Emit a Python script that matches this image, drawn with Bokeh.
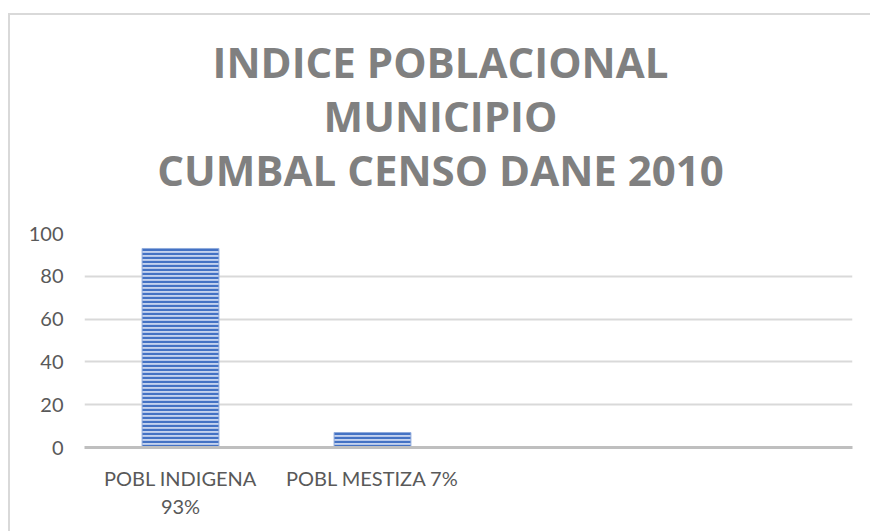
from bokeh.plotting import figure
from bokeh.layouts import column
from bokeh.models import FactorRange, Range1d, FixedTicker, ColumnDataSource
from bokeh.core.properties import value
from bokeh.embed import file_html
from bokeh.resources import INLINE

# data
categories = ["POBL INDIGENA\n93%", "POBL MESTIZA 7%", " ", "  "]
bar_categories = ["POBL INDIGENA\n93%", "POBL MESTIZA 7%"]
values = [93, 7]
y_ticks = [0, 20, 40, 60, 80, 100]
title_lines = ["INDICE POBLACIONAL", "MUNICIPIO", "CUMBAL CENSO DANE 2010"]

FONT = "Lato"
W = 860
HEAD_H = 200
LINE_STEP = 54
FIRST_BASELINE = 46
BL, BR = 74, 18
OFF_X = 10  # page offset of the chart canvas (margin + border)

# ---- header (chart title) ----
# header x range is expressed in page pixels so the title is centred on the whole chart
head = figure(width=W, height=HEAD_H,
              x_range=Range1d(OFF_X + BL, OFF_X + W - BR), y_range=Range1d(0, HEAD_H),
              output_backend="svg", toolbar_location=None,
              x_axis_type=None, y_axis_type=None,
              min_border_left=BL, min_border_right=BR, min_border_top=0, min_border_bottom=0)
head.outline_line_color = None
head.grid.grid_line_color = None
tsrc = ColumnDataSource(dict(
    x=[OFF_X + W / 2] * len(title_lines),
    y=[HEAD_H - (FIRST_BASELINE + i * LINE_STEP) for i in range(len(title_lines))],
    t=title_lines))
head.text(x="x", y="y", text="t", source=tsrc, text_align="center",
          text_baseline="alphabetic", text_font=value("Open Sans"),
          text_font_size="42px", text_font_style="bold", text_color="#808080")

# ---- chart ----
p = figure(width=W, height=531 - 15 - HEAD_H, x_range=FactorRange(factors=categories),
           y_range=Range1d(0, 100), output_backend="svg", toolbar_location=None,
           min_border_left=BL, min_border_right=BR, min_border_bottom=84,
           min_border_top=18)

src = ColumnDataSource(dict(x=bar_categories, top=values))
p.vbar(x="x", top="top", width=0.4, source=src, fill_color="#c5d3ee",
       line_color="#8faadc", line_width=1,
       hatch_pattern="horizontal_line", hatch_color="#4472c4",
       hatch_scale=4, hatch_weight=2.3)

p.outline_line_color = None
p.xgrid.grid_line_color = None
p.ygrid.grid_line_color = "#d9d9d9"
p.ygrid.grid_line_width = 2

p.yaxis.ticker = FixedTicker(ticks=y_ticks)
p.yaxis.axis_line_color = None
p.yaxis.major_tick_line_color = None
p.yaxis.minor_tick_line_color = None
p.yaxis.major_label_text_font = FONT
p.yaxis.major_label_text_font_size = "20px"
p.yaxis.major_label_text_color = "#595959"
p.yaxis.major_label_standoff = 15

p.xaxis.axis_line_color = "#bfbfbf"
p.xaxis.axis_line_width = 3
p.xaxis.major_tick_line_color = None
p.xaxis.minor_tick_line_color = None
p.xaxis.major_label_text_font = FONT
p.xaxis.major_label_text_font_size = "20px"
p.xaxis.major_label_text_color = "#595959"
p.xaxis.major_label_standoff = 12
p.xaxis.major_label_orientation = "horizontal"

layout = column(head, p, spacing=0)
layout.styles = {"margin-left": "8px", "margin-top": "13px",
                 "border-left": "2px solid #d9d9d9", "border-top": "2px solid #d9d9d9"}

open("out.html", "w").write(file_html(layout, INLINE))
